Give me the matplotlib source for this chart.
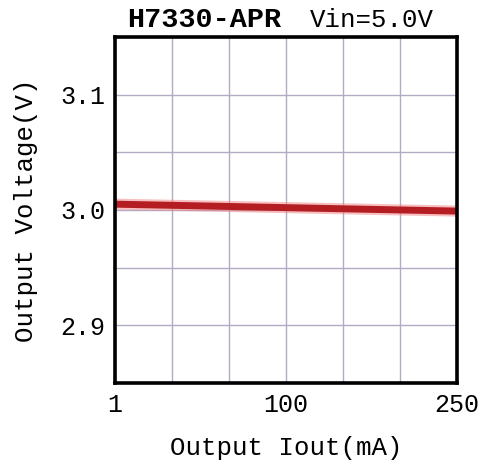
import matplotlib
matplotlib.use("Agg")
import matplotlib.pyplot as plt
from matplotlib.ticker import MultipleLocator

x_pos = [0, 6]
voltage = [3.005, 2.999]
xtick_pos = [0, 3, 6]
xtick_labels = ["1", "100", "250"]
ytick_vals = [2.9, 3.0, 3.1]
ytick_labels = ["2.9", "3.0", "3.1"]

mono = ["Liberation Mono", "DejaVu Sans Mono"]

fig = plt.figure(figsize=(4.83, 4.66), dpi=100)
ax = fig.add_axes([0.238, 0.178, 0.708, 0.743])
ax.set_xlim(0, 6)
ax.set_ylim(2.85, 3.15)
ax.xaxis.set_minor_locator(MultipleLocator(1))
ax.yaxis.set_minor_locator(MultipleLocator(0.05))
ax.grid(which="both", color="#b3abc3", lw=1.0)
ax.set_axisbelow(True)
ax.set_xticks(xtick_pos)
ax.set_xticklabels(xtick_labels, family=mono, fontsize=18)
ax.set_yticks(ytick_vals)
ax.set_yticklabels(ytick_labels, family=mono, fontsize=18)
ax.tick_params(which="both", length=0, pad=7)
for s in ax.spines.values():
    s.set_linewidth(2.6)
    s.set_color("black")

ax.plot(x_pos, voltage, color="#f08080", lw=8, alpha=0.5, solid_capstyle="butt")
ax.plot(x_pos, voltage, color="#b41e23", lw=5, solid_capstyle="butt")

ax.set_xlabel("Output Iout(mA)", family=mono, fontsize=18.5, labelpad=14)
ax.set_ylabel("Output Voltage(V)", family=mono, fontsize=18.5, labelpad=16)

fig.text(0.263, 0.958, "H7330-APR", family=mono, fontsize=20.5, fontweight="bold", ha="left", va="center")
fig.text(0.642, 0.958, "Vin=5.0V", family=mono, fontsize=18.5, ha="left", va="center")

fig.savefig("out.png", dpi=100)
